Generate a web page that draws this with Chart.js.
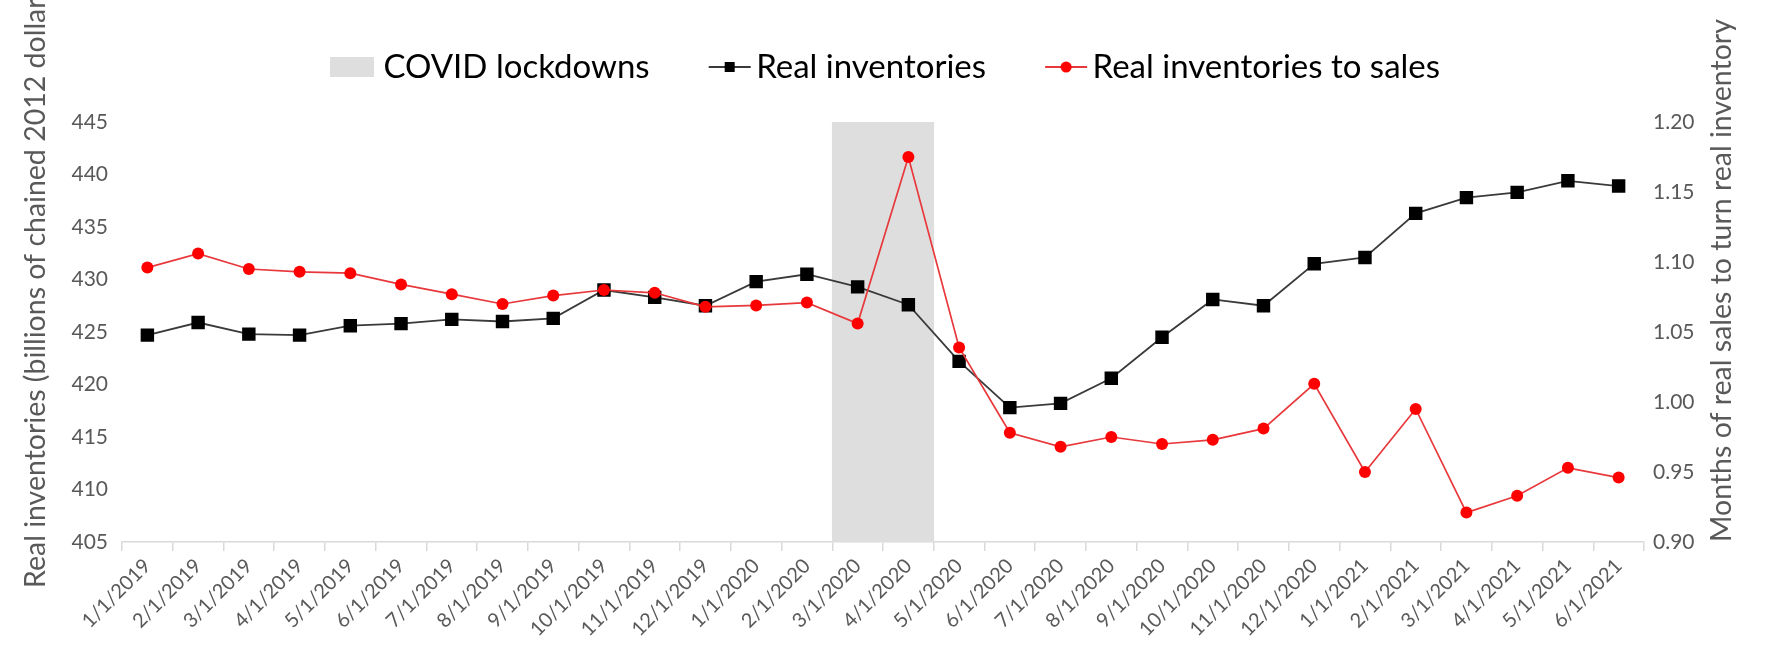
<!DOCTYPE html>
<html>
<head>
<meta charset="utf-8">
<script src="https://cdn.jsdelivr.net/npm/chart.js@4.4.1/dist/chart.umd.min.js"></script>
<style>
    html, body { margin: 0; padding: 0; background: #fff; }
    #wrap { position: relative; width: 1767px; height: 649px; }
</style>
</head>
<body>
<div id="wrap"><canvas id="grafica"></canvas></div>
<script>
/* Inventarios reales vs. razón inventarios/ventas — 2019-2021 */

// ── Datos ─────────────────────────────────────────────────────────────────────
const meses = [
    '1/1/2019', '2/1/2019', '3/1/2019', '4/1/2019', '5/1/2019', '6/1/2019',
    '7/1/2019', '8/1/2019', '9/1/2019', '10/1/2019', '11/1/2019', '12/1/2019',
    '1/1/2020', '2/1/2020', '3/1/2020', '4/1/2020', '5/1/2020', '6/1/2020',
    '7/1/2020', '8/1/2020', '9/1/2020', '10/1/2020', '11/1/2020', '12/1/2020',
    '1/1/2021', '2/1/2021', '3/1/2021', '4/1/2021', '5/1/2021', '6/1/2021'
];
const inventarios = [
    424.7, 425.9, 424.8, 424.7, 425.6, 425.8, 426.2, 426.0, 426.3, 429.0,
    428.3, 427.5, 429.8, 430.5, 429.3, 427.6, 422.2, 417.8, 418.2, 420.6,
    424.5, 428.1, 427.5, 431.5, 432.1, 436.3, 437.8, 438.3, 439.4, 438.9
];
const inventariosVentas = [
    1.096, 1.106, 1.095, 1.093, 1.092, 1.084, 1.077, 1.070, 1.076, 1.080,
    1.078, 1.068, 1.069, 1.071, 1.056, 1.175, 1.039, 0.978, 0.968, 0.975,
    0.970, 0.973, 0.981, 1.013, 0.950, 0.995, 0.921, 0.933, 0.953, 0.946
];
const mesesCovid = ['3/1/2020', '4/1/2020'];
const ticksInventario = [405, 410, 415, 420, 425, 430, 435, 440, 445];
const ticksRazon = [0.90, 0.95, 1.00, 1.05, 1.10, 1.15, 1.20];

const tituloIzq = 'Real inventories (billions of chained 2012 dollars)';
const tituloDer = 'Months of real sales to turn real inventory';

const GRIS_TEXTO = '#595959';
const FUENTE = 'Lato';

// banda de confinamiento: barra flotante de arriba a abajo del eje
const invMin = ticksInventario[0];
const invMax = ticksInventario[ticksInventario.length - 1];
const banda = meses.map(m => mesesCovid.includes(m) ? [invMin, invMax] : null);

// ── Iconos de leyenda (línea + marcador, estilo Excel) ───────────────────────
function iconoLeyenda(tipo) {
    const c = document.createElement('canvas');
    c.width = 66;
    c.height = 24;
    const g = c.getContext('2d');
    if (tipo === 'banda') {
        g.fillStyle = '#dedede';
        g.fillRect(16, 2, 44, 20);
        return c;
    }
    const esCuadro = tipo === 'cuadro';
    g.strokeStyle = esCuadro ? '#3a3a3a' : '#e8383b';
    g.lineWidth   = esCuadro ? 1.8 : 1.8;
    g.beginPath();
    g.moveTo(22, 12);
    g.lineTo(64, 12);
    g.stroke();
    if (esCuadro) {
        g.fillStyle = '#000';
        g.fillRect(38, 7, 10, 10);
    } else {
        g.fillStyle = '#f00';
        g.beginPath();
        g.arc(43, 12, 5.5, 0, Math.PI * 2);
        g.fill();
    }
    return c;
}

// ── Plugins ───────────────────────────────────────────────────────────────────
// más aire entre la leyenda y el área de la gráfica
const espacioLeyenda = {
    id: 'espacioLeyenda',
    beforeInit(chart) {
        const fitOriginal = chart.legend.fit;
        chart.legend.fit = function () {
            fitOriginal.bind(chart.legend)();
            this.height += 28.5;
        };
    }
};

// títulos de ejes girados (ambos leen de abajo hacia arriba)
const titulosEjes = {
    id: 'titulosEjes',
    afterDraw(chart) {
        const ctx  = chart.ctx;
        const area = chart.chartArea;
        ctx.save();
        ctx.font = `28.5px ${FUENTE}`;
        ctx.fillStyle = GRIS_TEXTO;
        ctx.textAlign = 'left';
        ctx.textBaseline = 'middle';

        ctx.save();
        ctx.translate(36, area.bottom + 46);
        ctx.rotate(-Math.PI / 2);
        ctx.fillText(tituloIzq, 0, 0);
        ctx.restore();

        ctx.save();
        ctx.translate(1722, area.bottom);
        ctx.rotate(-Math.PI / 2);
        ctx.fillText(tituloDer, 0, 0);
        ctx.restore();

        ctx.restore();
    }
};

// ── Gráfica ───────────────────────────────────────────────────────────────────
const ctx = document.getElementById('grafica');

new Chart(ctx, {
    type: 'bar',
    data: {
        labels: meses,
        datasets: [
            {
                type: 'bar',
                label: 'COVID lockdowns',
                data: banda,
                yAxisID: 'y',
                backgroundColor: '#dedede',
                borderWidth: 0,
                barPercentage: 1,
                categoryPercentage: 1,
                order: 3,
            },
            {
                type: 'line',
                label: 'Real inventories',
                data: inventarios,
                yAxisID: 'y',
                borderColor: '#3a3a3a',
                borderWidth: 1.8,
                pointStyle: 'rect',
                pointRadius: 9.5,
                pointBackgroundColor: '#000',
                pointBorderColor: '#000',
                pointBorderWidth: 0,
                tension: 0,
                order: 2,
            },
            {
                type: 'line',
                label: 'Real inventories to sales',
                data: inventariosVentas,
                yAxisID: 'y1',
                borderColor: '#e8383b',
                borderWidth: 1.7,
                pointStyle: 'circle',
                pointRadius: 6,
                pointBackgroundColor: '#f00',
                pointBorderColor: '#f00',
                pointBorderWidth: 0,
                tension: 0,
                order: 1,
            }
        ]
    },
    options: {
        responsive: true,
        maintainAspectRatio: false,
        animation: false,
        layout: { padding: { top: 0.5, left: 0, right: 0, bottom: 0 } },
        plugins: {
            tooltip: { enabled: false },
            legend: {
                position: 'top',
                labels: {
                    usePointStyle: true,
                    pointStyleWidth: 40,
                    padding: 50,
                    color: GRIS_TEXTO,
                    font: { family: FUENTE, size: 33 },
                    generateLabels: () => [
                        { text: 'COVID lockdowns', pointStyle: iconoLeyenda('banda'), datasetIndex: 0, hidden: false, lineWidth: 0 },
                        { text: 'Real inventories', pointStyle: iconoLeyenda('cuadro'), datasetIndex: 1, hidden: false, lineWidth: 0 },
                        { text: 'Real inventories to sales', pointStyle: iconoLeyenda('circulo'), datasetIndex: 2, hidden: false, lineWidth: 0 },
                    ]
                }
            }
        },
        scales: {
            x: {
                offset: true,
                grid: {
                    display: true,
                    offset: true,
                    drawOnChartArea: false,
                    drawTicks: true,
                    tickLength: 9,
                    color: '#d9d9d9',
                    lineWidth: 1.5,
                },
                border: { display: true, color: '#d9d9d9', width: 1.5 },
                ticks: {
                    color: GRIS_TEXTO,
                    font: { family: FUENTE, size: 20 },
                    minRotation: 45,
                    maxRotation: 45,
                    autoSkip: false,
                    padding: 3,
                },
                afterFit: s => { s.height = 107; }
            },
            y: {
                position: 'left',
                min: invMin,
                max: invMax,
                grid: { display: false, drawTicks: false },
                border: { display: false },
                ticks: {
                    stepSize: ticksInventario[1] - ticksInventario[0],
                    color: GRIS_TEXTO,
                    font: { family: FUENTE, size: 21 },
                    padding: 14,
                },
                afterFit: s => { s.width = 122; }
            },
            y1: {
                position: 'right',
                min: ticksRazon[0],
                max: ticksRazon[ticksRazon.length - 1],
                grid: { display: false, drawTicks: false },
                border: { display: false },
                ticks: {
                    stepSize: 0.05,
                    color: GRIS_TEXTO,
                    font: { family: FUENTE, size: 21 },
                    padding: 9,
                    callback: v => Number(v).toFixed(2)
                },
                afterFit: s => { s.width = 123; }
            }
        }
    },
    plugins: [espacioLeyenda, titulosEjes]
});
</script>
</body>
</html>
